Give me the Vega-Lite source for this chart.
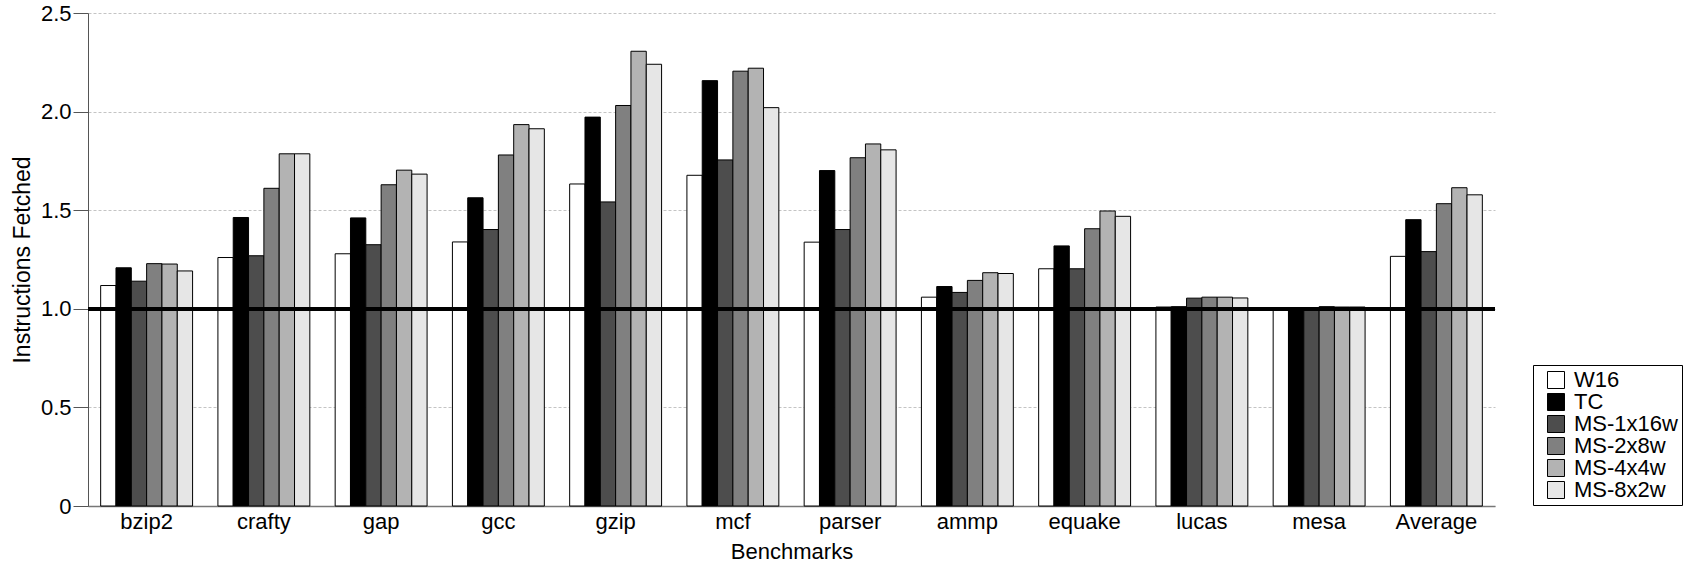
{
  "$schema": "https://vega.github.io/schema/vega-lite/v6.json",
  "width": 1407,
  "height": 493,
  "autosize": {"type": "none"},
  "padding": {"left": 88, "top": 13, "right": 204, "bottom": 65},
  "config": {"view": {"stroke": null}, "font": "Liberation Sans"},
  "data": {
    "values": [
      {"benchmark": "bzip2", "config": "W16", "value": 1.118},
      {"benchmark": "bzip2", "config": "TC", "value": 1.208},
      {"benchmark": "bzip2", "config": "MS-1x16w", "value": 1.140},
      {"benchmark": "bzip2", "config": "MS-2x8w", "value": 1.229},
      {"benchmark": "bzip2", "config": "MS-4x4w", "value": 1.227},
      {"benchmark": "bzip2", "config": "MS-8x2w", "value": 1.192},
      {"benchmark": "crafty", "config": "W16", "value": 1.260},
      {"benchmark": "crafty", "config": "TC", "value": 1.463},
      {"benchmark": "crafty", "config": "MS-1x16w", "value": 1.269},
      {"benchmark": "crafty", "config": "MS-2x8w", "value": 1.611},
      {"benchmark": "crafty", "config": "MS-4x4w", "value": 1.786},
      {"benchmark": "crafty", "config": "MS-8x2w", "value": 1.786},
      {"benchmark": "gap", "config": "W16", "value": 1.279},
      {"benchmark": "gap", "config": "TC", "value": 1.461},
      {"benchmark": "gap", "config": "MS-1x16w", "value": 1.325},
      {"benchmark": "gap", "config": "MS-2x8w", "value": 1.629},
      {"benchmark": "gap", "config": "MS-4x4w", "value": 1.703},
      {"benchmark": "gap", "config": "MS-8x2w", "value": 1.683},
      {"benchmark": "gcc", "config": "W16", "value": 1.339},
      {"benchmark": "gcc", "config": "TC", "value": 1.563},
      {"benchmark": "gcc", "config": "MS-1x16w", "value": 1.402},
      {"benchmark": "gcc", "config": "MS-2x8w", "value": 1.780},
      {"benchmark": "gcc", "config": "MS-4x4w", "value": 1.934},
      {"benchmark": "gcc", "config": "MS-8x2w", "value": 1.913},
      {"benchmark": "gzip", "config": "W16", "value": 1.633},
      {"benchmark": "gzip", "config": "TC", "value": 1.972},
      {"benchmark": "gzip", "config": "MS-1x16w", "value": 1.542},
      {"benchmark": "gzip", "config": "MS-2x8w", "value": 2.031},
      {"benchmark": "gzip", "config": "MS-4x4w", "value": 2.306},
      {"benchmark": "gzip", "config": "MS-8x2w", "value": 2.240},
      {"benchmark": "mcf", "config": "W16", "value": 1.677},
      {"benchmark": "mcf", "config": "TC", "value": 2.157},
      {"benchmark": "mcf", "config": "MS-1x16w", "value": 1.755},
      {"benchmark": "mcf", "config": "MS-2x8w", "value": 2.205},
      {"benchmark": "mcf", "config": "MS-4x4w", "value": 2.220},
      {"benchmark": "mcf", "config": "MS-8x2w", "value": 2.020},
      {"benchmark": "parser", "config": "W16", "value": 1.338},
      {"benchmark": "parser", "config": "TC", "value": 1.701},
      {"benchmark": "parser", "config": "MS-1x16w", "value": 1.402},
      {"benchmark": "parser", "config": "MS-2x8w", "value": 1.766},
      {"benchmark": "parser", "config": "MS-4x4w", "value": 1.836},
      {"benchmark": "parser", "config": "MS-8x2w", "value": 1.806},
      {"benchmark": "ammp", "config": "W16", "value": 1.059},
      {"benchmark": "ammp", "config": "TC", "value": 1.113},
      {"benchmark": "ammp", "config": "MS-1x16w", "value": 1.083},
      {"benchmark": "ammp", "config": "MS-2x8w", "value": 1.144},
      {"benchmark": "ammp", "config": "MS-4x4w", "value": 1.183},
      {"benchmark": "ammp", "config": "MS-8x2w", "value": 1.179},
      {"benchmark": "equake", "config": "W16", "value": 1.203},
      {"benchmark": "equake", "config": "TC", "value": 1.319},
      {"benchmark": "equake", "config": "MS-1x16w", "value": 1.203},
      {"benchmark": "equake", "config": "MS-2x8w", "value": 1.406},
      {"benchmark": "equake", "config": "MS-4x4w", "value": 1.496},
      {"benchmark": "equake", "config": "MS-8x2w", "value": 1.469},
      {"benchmark": "lucas", "config": "W16", "value": 1.009},
      {"benchmark": "lucas", "config": "TC", "value": 1.011},
      {"benchmark": "lucas", "config": "MS-1x16w", "value": 1.054},
      {"benchmark": "lucas", "config": "MS-2x8w", "value": 1.059},
      {"benchmark": "lucas", "config": "MS-4x4w", "value": 1.059},
      {"benchmark": "lucas", "config": "MS-8x2w", "value": 1.055},
      {"benchmark": "mesa", "config": "W16", "value": 1.0},
      {"benchmark": "mesa", "config": "TC", "value": 1.006},
      {"benchmark": "mesa", "config": "MS-1x16w", "value": 1.004},
      {"benchmark": "mesa", "config": "MS-2x8w", "value": 1.011},
      {"benchmark": "mesa", "config": "MS-4x4w", "value": 1.009},
      {"benchmark": "mesa", "config": "MS-8x2w", "value": 1.009},
      {"benchmark": "Average", "config": "W16", "value": 1.266},
      {"benchmark": "Average", "config": "TC", "value": 1.452},
      {"benchmark": "Average", "config": "MS-1x16w", "value": 1.290},
      {"benchmark": "Average", "config": "MS-2x8w", "value": 1.533},
      {"benchmark": "Average", "config": "MS-4x4w", "value": 1.614},
      {"benchmark": "Average", "config": "MS-8x2w", "value": 1.578}
    ]
  },
  "layer": [
    {
      "mark": {"type": "bar", "stroke": "black", "strokeWidth": 1},
      "encoding": {
        "x": {
          "field": "benchmark",
          "type": "nominal",
          "sort": ["bzip2", "crafty", "gap", "gcc", "gzip", "mcf", "parser", "ammp", "equake", "lucas", "mesa", "Average"],
          "scale": {"paddingInner": 0.216, "paddingOuter": 0.108},
          "title": "Benchmarks",
          "axis": {
            "labelAngle": 0,
            "labelFontSize": 22,
            "labelColor": "black",
            "labelPadding": 5,
            "ticks": false,
            "domainColor": "#777777",
            "domainWidth": 1.5,
            "titleFontSize": 22,
            "titleFontWeight": "normal",
            "titleColor": "black",
            "titlePadding": 9
          }
        },
        "xOffset": {
          "field": "config",
          "type": "nominal",
          "sort": ["W16", "TC", "MS-1x16w", "MS-2x8w", "MS-4x4w", "MS-8x2w"],
          "scale": {"paddingInner": 0, "paddingOuter": 0}
        },
        "y": {
          "field": "value",
          "type": "quantitative",
          "scale": {"domain": [0, 2.5], "nice": false},
          "title": "Instructions Fetched",
          "axis": {
            "values": [0, 0.5, 1, 1.5, 2, 2.5],
            "labelExpr": "datum.value == 0 ? '0' : format(datum.value, '.1f')",
            "labelFontSize": 22,
            "labelColor": "black",
            "labelPadding": 2,
            "tickSize": 15,
            "tickColor": "#555555",
            "domainColor": "#555555",
            "grid": true,
            "gridDash": [3, 2],
            "gridColor": "#c4c4c4",
            "titleFontSize": 23,
            "titleFontWeight": "normal",
            "titleColor": "black",
            "titlePadding": 6
          }
        },
        "fill": {
          "field": "config",
          "type": "nominal",
          "scale": {
            "domain": ["W16", "TC", "MS-1x16w", "MS-2x8w", "MS-4x4w", "MS-8x2w"],
            "range": ["#ffffff", "#000000", "#4d4d4d", "#808080", "#b3b3b3", "#e6e6e6"]
          },
          "legend": {
            "orient": "none",
            "legendX": 1445,
            "legendY": 352,
            "title": null,
            "strokeColor": "black",
            "fillColor": "white",
            "padding": 4,
            "symbolType": "square",
            "symbolSize": 289,
            "symbolStrokeColor": "black",
            "symbolStrokeWidth": 1,
            "symbolOffset": 8,
            "labelFontSize": 22,
            "labelColor": "black",
            "labelOffset": 7,
            "rowPadding": 0
          }
        }
      }
    },
    {
      "mark": {"type": "rule", "color": "black", "strokeWidth": 2.7},
      "encoding": {"y": {"datum": 1}}
    }
  ]
}
